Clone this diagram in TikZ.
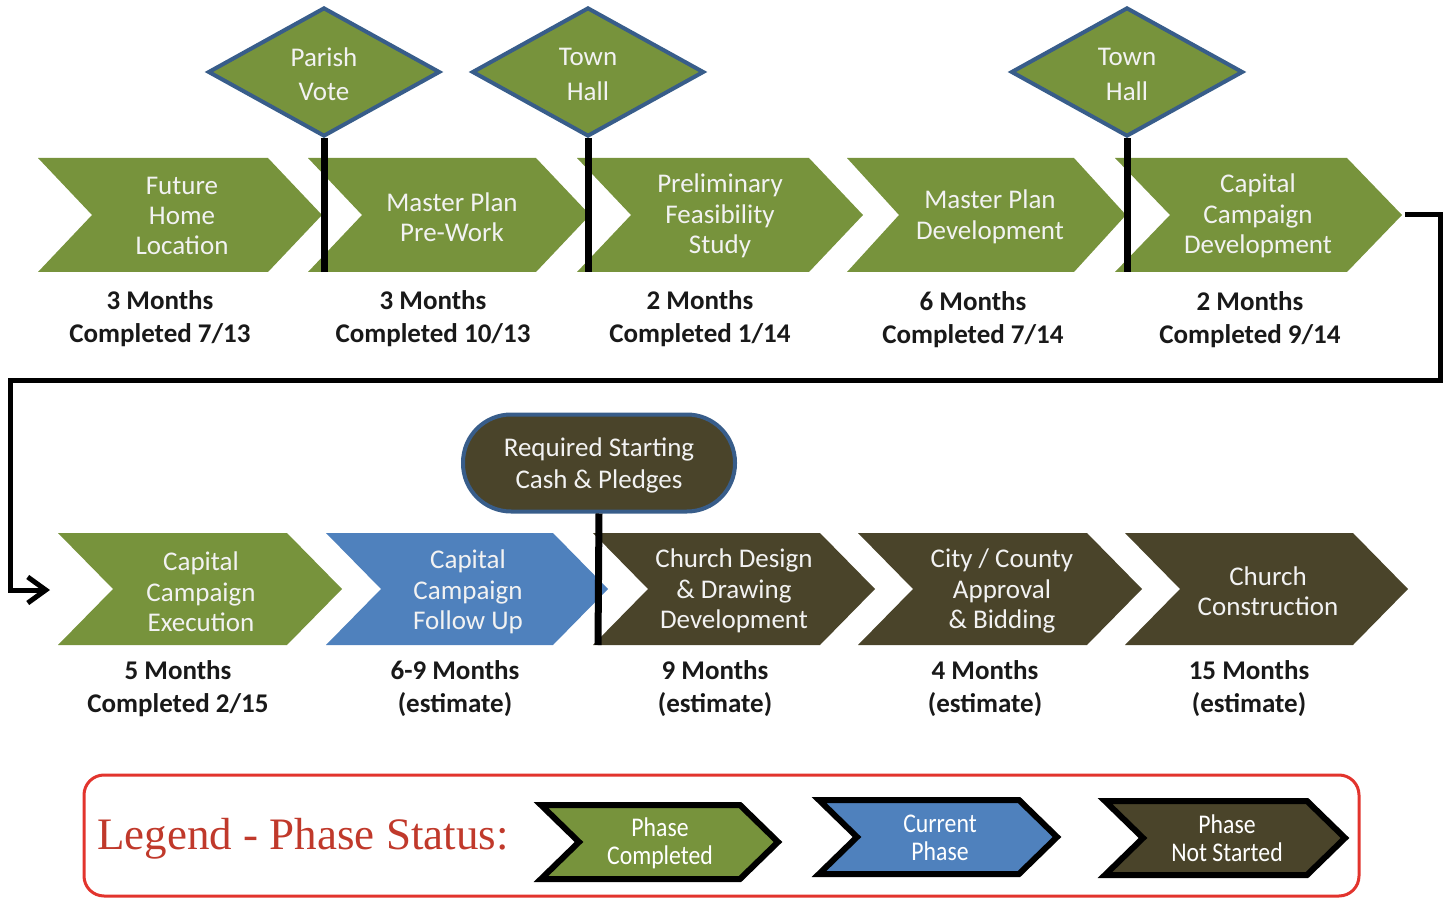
\documentclass[tikz,border=0pt]{standalone}
\usepackage{fontspec}
\setmainfont{Carlito}
\newfontfamily\legendfont{Liberation Serif}
\newfontfamily\narrowfont[FakeStretch=0.88]{Carlito}
\usetikzlibrary{arrows.meta}
\usetikzlibrary{shapes.geometric}

\definecolor{phasegreen}{RGB}{119,147,60}
\definecolor{phaseblue}{RGB}{79,129,189}
\definecolor{phasedark}{RGB}{74,68,42}
\definecolor{edgeblue}{RGB}{56,93,138}
\definecolor{legendred}{RGB}{226,52,45}
\definecolor{titlered}{RGB}{192,57,43}

% chevron: x0, y middle, length, half height, point depth, style
\newcommand\chev[6]{%
  \path[#6] (#1,#2-#4) -- (#1+#3-#5,#2-#4) -- (#1+#3,#2) -- (#1+#3-#5,#2+#4)
    -- (#1,#2+#4) -- (#1+#5,#2) -- cycle;}
% two lines hung below the centre of a milestone
\newcommand\twolines[4]{\raisebox{-#3}[0pt][0pt]{\shortstack{#1\\[#4]#2}}}

\begin{document}
\begin{tikzpicture}[x=0.5pt,y=-0.5pt,line join=miter,
  >={Straight Barb[length=9pt,width=13pt]},
  done/.style={fill=phasegreen},
  current/.style={fill=phaseblue},
  todo/.style={fill=phasedark},
  boxed/.style={draw=black,line width=3pt},
  phasetext/.style={align=center,text=white!95!black,font=\fontsize{13.5}{15.2}\selectfont},
  legendtext/.style={align=center,text=white,font=\narrowfont\fontsize{13.5}{14}\selectfont},
  duration/.style={align=center,text=black!90,font=\bfseries\fontsize{13.5}{16.5}\selectfont},
  gate/.style={diamond,draw=edgeblue,line width=2pt,fill=phasegreen,inner sep=0pt,
    minimum width=116pt,minimum height=64.5pt,aspect=1.8,align=center,
    text=white!95!black,font=\fontsize{13.5}{17}\selectfont},
  pledge/.style={rectangle,rounded corners=24pt,draw=edgeblue,line width=2pt,fill=phasedark,
    minimum width=136pt,minimum height=48.5pt,align=center,
    text=white!95!black,font=\fontsize{13.5}{16}\selectfont},
  stick/.style={line width=3.5pt},
  flow/.style={line width=2.5pt}]
\useasboundingbox (0,0) rectangle (1448,899);
%% first row
\chev{38}{215}{284}{57}{54}{done}
\chev{308}{215}{282}{57}{54}{done}
\chev{577}{215}{286}{57}{54}{done}
\chev{847}{215}{279}{57}{52}{done}
\chev{1115}{215}{287}{57}{55}{done}
\node (home) at (182,216) [phasetext] {Future\\Home\\Location};
\node (prework) at (452,217) [phasetext] {Master Plan\\Pre-Work};
\node (study) at (720,216) [phasetext] {Preliminary\\Feasibility\\Study};
\node (mpdev) at (990,217) [phasetext] {Master Plan\\Development};
\node (ccdev) at (1258,216) [phasetext] {Capital\\Campaign\\Development};
\node (home-time) at (160,319) [duration] {3 Months\\Completed 7/13};
\node (prework-time) at (433,319) [duration] {3 Months\\Completed 10/13};
\node (study-time) at (700,319) [duration] {2 Months\\Completed 1/14};
\node (mpdev-time) at (973,320) [duration] {6 Months\\Completed 7/14};
\node (ccdev-time) at (1250,320) [duration] {2 Months\\Completed 9/14};
%% milestones
\node (vote) at (324,72) [gate] {\twolines{Parish}{Vote}{14.25pt}{5pt}};
\node (hall1) at (588,72) [gate] {\twolines{Town}{Hall}{14.25pt}{5pt}};
\node (hall2) at (1127,72) [gate] {\twolines{Town}{Hall}{14.25pt}{5pt}};
\coordinate (vote-foot) at (324,272);
\coordinate (hall1-foot) at (588,272);
\coordinate (hall2-foot) at (1127,272);
\draw [stick] (vote.south) -- (vote-foot);
\draw [stick] (hall1.south) -- (hall1-foot);
\draw [stick] (hall2.south) -- (hall2-foot);
%% turn to second row
\coordinate (exit) at (1405,215);
\coordinate (entry) at (50,590);
\draw [flow,->] (exit) -| (1440,380) -| (10,590) -- (entry);
%% second row
\chev{58}{589}{284}{56}{55}{done}
\chev{326}{589}{282}{56}{55}{current}
\chev{593}{589}{282}{56}{55}{todo}
\chev{858}{589}{284}{56}{55}{todo}
\chev{1125}{589}{283}{56}{55}{todo}
\node (exec) at (201,592) [phasetext] {Capital\\Campaign\\Execution};
\node (follow) at (468,592) [phasetext] {Capital\\Campaign\\Follow Up};
\node (design) at (734,591) [phasetext] {Church Design\\\& Drawing\\Development};
\node (approval) at (1002,591) [phasetext] {City / County\\Approval\\\& Bidding};
\node (build) at (1268,591) [phasetext] {Church\\Construction};
\node (exec-time) at (178,689) [duration] {5 Months\\Completed 2/15};
\node (follow-time) at (455,689) [duration] {6-9 Months\\(estimate)};
\node (design-time) at (715,689) [duration] {9 Months\\(estimate)};
\node (approval-time) at (985,689) [duration] {4 Months\\(estimate)};
\node (build-time) at (1249,689) [duration] {15 Months\\(estimate)};
\node (cash) at (599,463) [pledge] {\twolines{Required Starting}{Cash \& Pledges}{12.75pt}{1.5pt}};
\coordinate (cash-foot) at (598,645);
\draw [stick] (cash.south) -- (cash-foot);
%% legend
\draw [legendred,line width=1.5pt,rounded corners=10pt] (84,775) rectangle (1359,896);
\node (legend) at (303,839) [text=titlered,font=\legendfont\fontsize{22.5}{24}\selectfont] {Legend - Phase Status:};
\chev{541}{842}{237}{37}{38}{done,boxed}
\chev{819}{837}{238}{37}{38}{current,boxed}
\chev{1105}{838}{240}{37}{38}{todo,boxed}
\node (lg-done) at (660,843) [legendtext] {Phase\\Completed};
\node (lg-current) at (940,838) [legendtext] {Current\\Phase};
\node (lg-todo) at (1227,838) [legendtext] {Phase\\Not Started};
%
\end{tikzpicture}
\end{document}
